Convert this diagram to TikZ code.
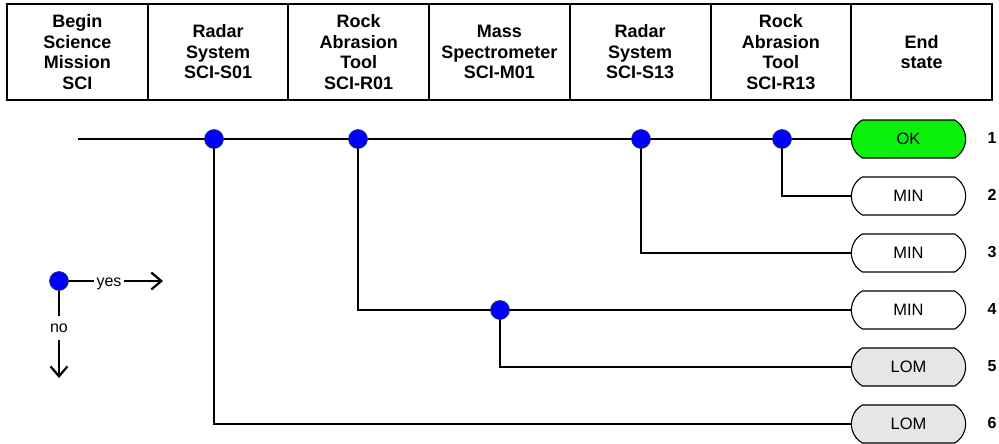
\documentclass[tikz,border=0pt]{standalone}
\usepackage{fontspec}
\setmainfont{Liberation Sans}
\usepackage{xcolor}
\usepackage{tikz}
\usetikzlibrary{shapes.misc, arrows.meta, positioning, backgrounds}
\definecolor{okgreen}{RGB}{10,240,10}
\definecolor{lomgray}{RGB}{230,230,230}

\begin{document}
\begin{tikzpicture}[
        x=1pt, y=-1pt,
        % --- Style Definitions ---
        node distance=0pt and 0pt,
        header/.style={rectangle, draw=black, line width=2pt, outer sep=0pt, minimum width=140.7pt, minimum height=96pt, align=center, font=\fontsize{18}{20.5}\selectfont\bfseries},
        decision/.style={circle, draw=black!80, line width=0.6pt, fill=blue, minimum size=19pt, inner sep=0pt},
        endstate/.style={rounded rectangle, rounded rectangle arc length=120, draw=black, line width=1.1pt, fill=white, minimum width=121pt, minimum height=38pt, font=\fontsize{16.5}{18}\selectfont},
        seqnum/.style={font=\fontsize{16}{18}\selectfont\bfseries},
        keytext/.style={font=\fontsize{16}{18}\selectfont, inner xsep=2pt, inner ysep=7pt},
        line/.style={line width=2.2pt},
        arrow/.style={line width=2.2pt, -{Straight Barb[length=10pt, width=17pt]}}
    ]
        \useasboundingbox (0,0) rectangle (999,444);

        % --- Header row ---
        \node[header, anchor=north west] (h_sci) at (7,4) {Begin\\Science\\Mission\\SCI};
        \node[header] (h_s01) [right=of h_sci] {Radar\\System\\SCI-S01};
        \node[header] (h_r01) [right=of h_s01] {Rock\\Abrasion\\Tool\\SCI-R01};
        \node[header] (h_m01) [right=of h_r01] {Mass\\Spectrometer\\SCI-M01};
        \node[header] (h_s13) [right=of h_m01] {Radar\\System\\SCI-S13};
        \node[header] (h_r13) [right=of h_s13] {Rock\\Abrasion\\Tool\\SCI-R13};
        \node[header] (h_end) [right=of h_r13] {End\\state};

        % --- Decision points ---
        \coordinate (start) at (78,139);
        \node[decision] (s01) at (214,139) {};
        \node[decision] (r01) at (358,139) {};
        \node[decision] (s13) at (641,139) {};
        \node[decision] (r13) at (782,139) {};
        \node[decision] (m01) at (500,310) {};

        % --- End states ---
        \node[endstate, fill=okgreen] (e1) at (908.5,139) {OK};
        \node[endstate] (e2) at (908.5,196) {MIN};
        \node[endstate] (e3) at (908.5,253) {MIN};
        \node[endstate] (e4) at (908.5,310) {MIN};
        \node[endstate, fill=lomgray] (e5) at (908.5,367) {LOM};
        \node[endstate, fill=lomgray] (e6) at (908.5,424) {LOM};

        \node[seqnum] (n1) at (992,138) {1};
        \node[seqnum] (n2) at (992,195) {2};
        \node[seqnum] (n3) at (992,252) {3};
        \node[seqnum] (n4) at (992,309) {4};
        \node[seqnum] (n5) at (992,366) {5};
        \node[seqnum] (n6) at (992,423) {6};

        % --- Sequences (behind the dots) ---
        \begin{scope}[on background layer]
            \draw[line] (start) -- (e1.west);
            \draw[line] (r13.center) |- (e2.west);
            \draw[line] (s13.center) |- (e3.west);
            \draw[line] (r01.center) |- (e4.west);
            \draw[line] (m01.center) |- (e5.west);
            \draw[line] (s01.center) |- (e6.west);
        \end{scope}

        % --- Key ---
        \node[decision] (key) at (59,281) {};
        \node[keytext] (yes) at (109,283.5) {yes};
        \node[keytext] (no) at (59,328) {no};
        \coordinate (yes_end) at (163,281);
        \coordinate (no_end) at (59,378);
        \draw[line] (key) -- (key -| yes.west);
        \draw[arrow] (yes.east |- key) -- (yes_end);
        \draw[line] (key) -- (no);
        \draw[arrow] (no) -- (no_end);

    \end{tikzpicture}
\end{document}
